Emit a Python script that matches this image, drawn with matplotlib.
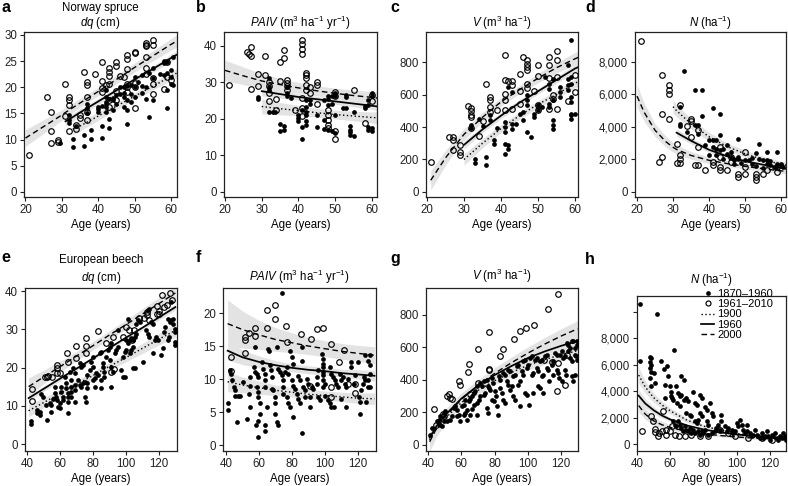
import numpy as np
import matplotlib
matplotlib.use("Agg")
import matplotlib.pyplot as plt
from matplotlib.lines import Line2D

plt.rcParams['font.family'] = ['Liberation Sans', 'DejaVu Sans']
plt.rcParams['mathtext.fontset'] = 'custom'
plt.rcParams['mathtext.rm'] = 'Liberation Sans'
plt.rcParams['mathtext.it'] = 'Liberation Sans:italic'
plt.rcParams['mathtext.bf'] = 'Liberation Sans:bold'

nan = np.nan

# ---------------- data: Norway spruce ----------------
a_old = [(29.4, 9.3), (32, 14.7), (32, 13.8), (32, 13.1), (33, 10.1), (33, 8.6), (34, 12.6), (36, 10.8), (36, 8.8),
         (37, 16.9), (37, 16.0), (37, 15.0), (38, 11.8), (38, 10.2), (40, 16.3), (40, 15.3), (41, 12.6), (41, 10.4),
         (42, 19.5), (42, 18.2), (42, 17.2), (42, 16.3), (42, 15.3), (43, 14.0), (43, 12.3), (44, 17.5), (44, 15.6),
         (45, 18.5), (45, 16.9), (46, 20.0), (47, 20.0), (47, 18.2), (47, 16.3), (48, 17.5), (48, 15.6), (48, 13.0),
         (49, 18.8), (49, 17.2), (50, 22.0), (50, 20.1), (50, 18.2), (52, 22.3), (52, 20.2), (53, 20.1), (53, 17.7),
         (54, 14.4), (54, 22.8), (55, 23.6), (55, 21.7), (55, 17.5), (58, 24.6), (58, 22.3), (59, 24.9), (59, 16.0),
         (59, 19.5), (60, 23.3), (60, 22.0), (60, 20.7), (60.5, 25.8), (60.5, 20.4), (40, 15.8), (41, 16.5),
         (42, 16.8), (43, 17.8), (44, 18.0), (46, 18.8), (47, 19.0), (48, 20.3), (49, 20.5), (51, 21.0), (52, 19.0),
         (57, 22.5), (58, 25.0), (59, 22.8)]
a_new = [(21, 7.1), (26, 18.2), (27, 15.3), (27, 11.6), (27, 9.3), (29, 9.9), (29, 9.5), (31, 20.6), (32, 18.2),
         (32, 17.5), (32, 16.7), (31, 14.5), (32, 11.6), (34, 12.8), (35, 14.2), (35, 14.7), (34, 12.1), (36, 22.9),
         (37, 21.1), (37, 20.4), (37, 18.1), (37, 13.7), (37, 15.3), (39, 22.5), (41, 24.8), (41, 21.2), (41, 19.8),
         (41, 19.1), (42, 20.4), (43, 23.6), (43, 23.0), (43, 22.2), (43, 20.7), (43, 17.5), (43, 16.3), (45, 24.8),
         (45, 24.1), (45, 19.3), (45, 17.5), (46, 22.1), (47, 22.0), (48, 26.1), (48, 25.5), (48, 23.5), (48, 20.7),
         (48, 20.0), (48, 19.1), (50, 26.8), (50, 26.5), (50, 16.1), (50, 20.9), (50, 20.0), (53, 28.4), (53, 28.1),
         (53, 27.8), (53, 25.8), (53, 23.6), (53, 22.5), (55, 29.0), (55, 28.1), (55, 21.8), (55, 20.7), (55, 18.8),
         (58, 19.6), (59, 24.9), (59, 22.0), (60, 21.4)]
a_fit_age = [20, 25, 30, 31, 33, 35, 40, 45, 50, 55, 60, 61.5]
a_2000 = [10.3, 12.5, 14.7, 15.2, 16.1, 17.0, 19.2, 21.5, 23.8, 26.0, 28.2, 28.8]
a_1960 = [nan, nan, nan, 13.5, 14.3, 15.2, 17.3, 19.4, 21.5, 23.5, 25.6, 26.2]
a_1900 = [nan, nan, nan, nan, 12.0, 12.6, 14.5, 16.4, 18.3, 20.2, 22.1, 22.7]
a_2000_ci = [1.6, 1.3, 1.0, 0.95, 0.9, 0.85, 0.8, 0.8, 0.85, 0.95, 1.1, 1.2]
a_1960_ci = [nan, nan, nan, 0.8, 0.75, 0.7, 0.6, 0.55, 0.55, 0.6, 0.7, 0.75]
a_1900_ci = [nan, nan, nan, nan, 1.0, 0.95, 0.8, 0.7, 0.65, 0.7, 0.8, 0.85]

b_old = [(29, 26.0), (29, 25.5), (32, 31.3), (32, 28.7), (32, 28.0), (32, 22.0), (33, 22.0), (33.5, 22.0), (35, 18.7),
         (36, 18.1), (36, 17.0), (35, 16.7), (37, 28.7), (37, 27.0), (37, 26.2), (38, 25.7), (40, 21.1), (40, 20.2),
         (40, 19.3), (41, 22.5), (41, 17.7), (41, 14.5), (42, 25.1), (42, 23.4), (42, 22.0), (42, 21.1), (42, 19.3),
         (42, 18.4), (43, 25.2), (43, 24.1), (45, 21.1), (45, 17.9), (47, 25.2), (47, 19.8), (47, 17.2), (48, 26.2),
         (48, 25.4), (48, 23.8), (48, 17.0), (49, 16.6), (49, 26.2), (49, 24.1), (50, 27.0), (50, 26.2), (50, 21.1),
         (50, 16.1), (52, 23.0), (53, 23.0), (53, 26.6), (53, 26.0), (54, 18.1), (54, 17.0), (54, 16.3), (54, 15.7),
         (55, 15.2), (55, 22.0), (58, 23.0), (58, 23.6), (59, 25.2), (59, 23.9), (59, 17.9), (59, 17.0), (60, 27.0),
         (60, 26.2), (60, 17.5), (60, 16.6)]
b_new = [(21, 29.3), (26, 38.2), (26.5, 37.9), (27, 39.6), (27, 37.1), (27, 28.2), (29, 32.3), (29, 29.0), (31, 37.1),
         (31, 32.1), (32, 30.2), (32, 29.0), (32, 27.2), (32, 24.8), (34, 25.4), (34, 22.4), (35, 35.7), (36, 38.8),
         (36, 36.8), (35, 30.4), (37, 30.7), (37, 29.8), (37, 29.0), (37, 28.0), (39, 22.4), (41, 41.5), (41, 40.6),
         (41, 39.2), (41, 37.8), (41, 25.7), (41, 23.0), (41, 20.7), (42, 32.5), (42, 31.9), (42, 31.2), (42, 29.4),
         (42, 28.0), (43, 28.7), (43, 27.0), (45, 30.2), (45, 29.3), (45, 24.1), (50, 27.5), (50, 26.2), (50, 14.5),
         (50, 16.6), (48, 22.5), (48, 21.1), (48, 19.8), (48, 18.4), (48, 17.5), (55, 28.0), (58, 19.0), (60, 26.6),
         (60, 24.8)]
b_fit_age = [20, 25, 30, 35, 40, 45, 50, 55, 60, 61.5]
b_2000 = [33.3, 31.8, 30.4, 29.4, 28.5, 27.7, 27.0, 26.4, 25.9, 25.7]
b_1960 = [nan, nan, 27.6, 26.8, 26.0, 25.4, 24.8, 24.2, 23.6, 23.4]
b_1900 = [nan, nan, 23.4, 22.8, 22.3, 21.7, 21.2, 20.8, 20.4, 20.3]
b_2000_ci = [2.8, 2.4, 2.0, 1.7, 1.5, 1.4, 1.4, 1.5, 1.6, 1.7]
b_1960_ci = [nan, nan, 1.3, 1.1, 0.9, 0.8, 0.8, 0.9, 1.0, 1.1]
b_1900_ci = [nan, nan, 2.0, 1.7, 1.4, 1.2, 1.2, 1.3, 1.5, 1.6]

c_old = [(32, 410), (32, 394), (34, 451), (35, 404), (33, 205), (33, 178), (36, 215), (36, 164), (37, 472), (37, 441),
         (38, 318), (38, 293), (39, 396), (41, 431), (41, 400), (41, 369), (41, 297), (41, 236), (42, 287), (42, 267),
         (42, 646), (43, 615), (43, 420), (43, 390), (44, 420), (45, 482), (46, 492), (46, 441), (47, 595), (47, 564),
         (47, 533), (47, 369), (48, 338), (49, 482), (49, 462), (50, 533), (50, 503), (51, 523), (52, 708), (53, 667),
         (53, 636), (54, 697), (53, 544), (53, 523), (54, 564), (54, 441), (54, 410), (54, 390), (56, 646), (56, 615),
         (56, 585), (58, 697), (58, 779), (58, 656), (58, 626), (59, 933), (59, 472), (59, 451), (59, 708), (59, 667),
         (59, 482), (60, 482), (59, 585), (59, 554)]
c_new = [(21, 185), (26, 338), (27, 338), (27, 318), (27, 260), (29, 287), (29, 246), (29, 226), (31, 527), (32, 519),
         (32, 496), (32, 476), (32, 462), (32, 396), (34, 343), (35, 437), (36, 667), (37, 564), (37, 523), (37, 492),
         (37, 585), (39, 507), (41, 841), (41, 687), (42, 681), (43, 681), (41, 605), (41, 564), (43, 656), (43, 508),
         (41, 503), (45, 724), (45, 619), (45, 544), (46, 831), (47, 810), (47, 790), (47, 769), (47, 749), (47, 667),
         (47, 640), (49, 620), (50, 779), (50, 712), (50, 533), (50, 503), (53, 831), (53, 779), (53, 701), (53, 513),
         (55, 865), (55, 815), (55, 710), (55, 513), (54, 595), (54, 574), (58, 560), (60, 615), (60, 720)]
c_fit_age = [21, 25, 30, 35, 40, 45, 50, 55, 60, 61]
c_2000 = [72, 210, 355, 460, 555, 630, 700, 765, 820, 830]
c_1960 = [nan, nan, 290, 385, 470, 550, 620, 690, 760, 770]
c_1900 = [nan, nan, 200, 300, 390, 470, 540, 600, 670, 680]
c_2000_ci = [60, 45, 35, 28, 25, 25, 28, 32, 38, 40]
c_1960_ci = [nan, nan, 25, 20, 18, 18, 18, 20, 24, 25]
c_1900_ci = [nan, nan, 35, 28, 24, 22, 22, 24, 28, 30]

d_old = [(33, 7450), (36, 6260), (38, 6300), (41, 5170), (43, 4820), (32, 5230), (32, 4200), (32, 4040), (38, 4660),
         (36, 4100), (37, 4100), (37, 3590), (34, 3690), (43, 3490), (40, 3180), (41, 3180), (42, 3180), (41, 2770),
         (42, 2670), (43, 2560), (44, 2670), (45, 2360), (46, 2460), (46, 2150), (47, 1950), (48, 2150), (48, 2050),
         (48, 3240), (50, 1950), (51, 1950), (52, 1740), (53, 2400), (54, 2970), (54, 2050), (55, 1950), (56, 1950),
         (56, 1740), (57, 1640), (58, 1540), (58.5, 1540), (59, 2460), (60, 1740), (60, 1640), (60.5, 1540), (56, 2460),
         (44, 2000), (47, 1700), (49, 1800), (52, 2100), (53, 1600), (55, 1500), (57, 1900), (59, 1700), (45, 2900),
         (40, 2300), (39, 2900), (42, 2300)]
d_new = [(21, 9290), (26, 1850), (27, 2150), (27, 4800), (27, 7180), (29, 6560), (29, 6260), (29, 6050), (29, 4510),
         (31, 1785), (32, 1785), (32, 5330), (32, 2260), (32, 2050), (31, 2970), (34, 4040), (35, 4510), (35, 4370),
         (35, 3380), (36, 1640), (37, 1640), (37, 3830), (37, 2770), (39, 1330), (41, 1850), (41, 1640), (43, 2770),
         (43, 1540), (43, 1330), (43, 2150), (45, 1330), (46, 2150), (46, 1850), (48, 920), (48, 1130), (50, 2460),
         (50, 1540), (50, 1130), (53, 920), (53, 720), (53, 1130), (55, 1130), (56, 1330), (59, 1540), (59, 1230)]
d_fit_age = [20, 22, 25, 28, 30, 31, 35, 40, 45, 50, 55, 60, 61.5]
d_2000 = [5900, 4900, 3800, 3100, 2750, 2620, 2250, 1950, 1750, 1580, 1430, 1300, 1270]
d_1960 = [nan, nan, nan, nan, nan, 3650, 3150, 2600, 2200, 1900, 1680, 1480, 1430]
d_1900 = [nan, nan, nan, nan, 5250, 5000, 4200, 3400, 2800, 2350, 2000, 1700, 1650]
d_2000_ci = [700, 550, 400, 330, 300, 280, 240, 200, 180, 160, 150, 150, 150]
d_1960_ci = [nan, nan, nan, nan, nan, 220, 190, 160, 140, 130, 120, 120, 120]
d_1900_ci = [nan, nan, nan, nan, 400, 370, 320, 270, 230, 210, 200, 200, 200]

# ---------------- data: European beech ----------------
e_old = [(42.6, 5.9), (42.6, 5.2), (46, 8.9), (46, 8.1), (47.7, 8.5), (47.7, 7.6), (48.7, 13.1), (49.7, 12.4),
         (51.7, 10.2), (52.1, 6.3), (53.7, 10.7), (54.7, 10.2), (55.8, 11.7), (54.7, 8.5), (56.8, 15.0), (56.8, 13.3),
         (57.4, 12.4), (58.2, 11.5), (58.8, 9.8), (59.8, 10.7), (60.2, 9.4), (60.8, 15.0), (60.8, 13.7), (61.8, 12.4),
         (61.8, 11.5), (62.8, 17.6), (63.8, 15.9), (63.8, 14.6), (64.8, 13.3), (64.8, 12.4), (64.8, 11.1), (64.8, 8.1),
         (65.9, 18.9), (66.9, 16.7), (66.9, 15.0), (66.9, 13.7), (66.9, 12.4), (67.9, 19.8), (68.9, 18.5), (68.9, 15.4),
         (68.9, 14.1), (68.9, 11.1), (70.9, 16.7), (71.9, 15.4), (72.9, 15.0), (73.9, 15.9), (74.9, 16.3), (71.9, 21.1),
         (72.9, 20.2), (73.9, 20.7), (74.9, 12.4), (76, 11.1), (76.4, 18.0), (76.4, 15.9), (76.4, 14.6), (78, 19.3),
         (79, 21.5), (80, 22.8), (80, 20.2), (80, 16.7), (81, 17.2), (81, 15.0), (82, 18.5), (83, 18.0), (84, 23.7),
         (85, 24.1), (85, 16.7), (85, 14.6), (86, 21.1), (86, 20.2), (87, 18.9), (87, 17.6), (89.1, 24.6), (90.1, 25.4),
         (91.1, 26.3), (88.1, 22.8), (90.1, 22.0), (91.1, 20.2), (92.1, 18.9), (93.1, 23.7), (94.1, 24.6), (95.2, 25.4),
         (95.2, 29.8), (91.1, 15.0), (97.2, 19.3), (98.2, 17.6), (99.2, 17.4), (98.2, 22.8), (99.2, 24.1), (100.2, 24.6),
         (101.2, 26.3), (100.2, 27.2), (102.2, 27.2), (103.2, 27.6), (101.2, 32.6), (102.2, 23.7), (103.2, 24.6),
         (104.2, 25.4), (104.2, 19.8), (105.3, 19.8), (104.2, 27.2), (105.3, 28.0), (106.3, 28.9), (106.3, 31.5),
         (107.3, 32.4), (108.3, 31.9), (110.3, 21.5), (112.3, 29.9), (113.3, 28.9), (114.3, 28.0), (113.3, 35.0),
         (114.3, 35.4), (115.3, 31.9), (116.4, 31.5), (116.4, 23.7), (117.4, 27.2), (118.4, 28.0), (119.4, 27.2),
         (121.4, 23.3), (122.4, 25.0), (123.4, 29.3), (124, 30.6), (125.5, 32.8), (126.5, 31.9), (125.5, 27.2),
         (126.1, 28.0), (127.5, 32.4), (128.5, 32.8), (128.5, 31.5), (127.5, 37.1), (129.5, 26.7), (129.5, 25.9),
         (129.5, 30.2), (129.5, 29.3)]
e_new = [(43, 14.3), (43, 11.3), (51, 17.4), (52, 17.6), (53, 17.9), (55, 17.6), (58, 20.7), (58, 19.8), (58, 18.7),
         (64, 23.9), (65, 21.5), (70, 25.6), (70, 22.6), (76, 27.8), (76, 25.6), (76, 23.7), (83, 29.5), (91, 18.9),
         (92, 28.0), (98, 28.0), (100, 30.5), (102, 29.8), (104, 27.2), (105, 29.9), (108, 33.0), (111, 33.0),
         (113, 33.7), (113, 34.5), (114, 32.4), (119, 34.1), (119, 36.2), (120, 34.8), (120, 33.9), (123, 35.8),
         (125, 36.3), (128, 37.6), (122, 39.1), (127, 39.5), (93, 19.5), (60, 18.5), (88, 26.5)]
e_fit_age = [41, 50, 60, 70, 80, 90, 100, 110, 120, 130]
e_2000 = [15.0, 17.5, 20.2, 23.0, 25.7, 28.5, 31.2, 34.0, 36.7, 39.5]
e_1960 = [12.0, 14.4, 17.1, 19.7, 22.4, 25.1, 27.8, 30.4, 33.1, 35.8]
e_1900 = [8.7, 10.8, 13.2, 15.6, 17.9, 20.3, 22.6, 25.0, 27.4, 29.7]
e_2000_ci = [2.3, 1.8, 1.4, 1.2, 1.1, 1.1, 1.2, 1.4, 1.6, 1.8]
e_1960_ci = [0.9, 0.7, 0.6, 0.5, 0.5, 0.5, 0.5, 0.6, 0.7, 0.8]
e_1900_ci = [1.6, 1.3, 1.1, 1.0, 1.0, 1.0, 1.1, 1.3, 1.5, 1.7]

f_old = [(41.4, 6.3), (41.4, 5.3), (42.2, 11.4), (43.2, 10.8), (43.6, 9.8), (44.6, 8.8), (45.2, 8.3), (45.6, 7.5),
         (46.6, 3.5), (47.2, 7.5), (48.6, 7.5), (50.6, 9.5), (52.7, 4.0), (53.7, 7.7), (54.7, 10.3), (54.7, 9.0),
         (54.7, 5.8), (56.7, 11.8), (57.3, 14.8), (57.7, 11.0), (58.7, 10.8), (59.3, 10.3), (58.7, 8.8), (59.7, 8.0),
         (59.7, 7.3), (58.1, 3.0), (59.3, 3.7), (59.7, 1.2), (60.7, 6.3), (60.7, 4.7), (61.7, 12.6), (62.7, 11.6),
         (63.7, 10.8), (63.7, 9.8), (63.7, 8.8), (63.7, 3.0), (63.7, 2.1), (65.3, 14.6), (66.1, 14.3), (64.7, 5.8),
         (66.7, 12.1), (67.3, 11.3), (67.7, 10.3), (67.7, 8.5), (68.7, 8.3), (69.7, 7.3), (69.7, 6.3), (69.7, 4.7),
         (70.7, 3.5), (71.8, 3.0), (70.7, 14.9), (71.8, 11.6), (72.8, 11.1), (73.8, 10.6), (74.2, 23.0), (74.8, 9.8),
         (74.8, 8.8), (74.8, 7.8), (75.8, 11.1), (76.8, 11.8), (77.8, 10.8), (76.8, 7.3), (77.8, 6.3), (78.8, 5.8),
         (78.8, 14.3), (79.8, 13.3), (80.8, 12.3), (79.8, 9.8), (80.8, 9.0), (81.8, 8.5), (80.8, 4.2), (82.8, 7.8),
         (83.8, 7.0), (84.8, 6.3), (83.8, 10.5), (84.8, 9.8), (85.8, 14.8), (85.8, 12.8), (86.8, 8.8), (87.8, 8.3),
         (87.8, 7.3), (88.8, 10.0), (89.8, 9.3), (86.2, 1.8), (90.9, 7.3), (90.9, 5.8), (91.9, 8.8), (92.9, 8.5),
         (94.9, 9.3), (94.9, 10.3), (95.9, 11.3), (95.9, 7.3), (96.9, 6.8), (97.9, 13.8), (98.9, 13.1), (98.9, 12.3),
         (98.9, 11.8), (98.9, 11.1), (98.9, 10.6), (98.9, 9.8), (98.9, 8.8), (99.9, 9.3), (100.3, 7.5), (101.9, 6.8),
         (102.9, 6.3), (102.9, 11.8), (103.9, 10.8), (104.9, 10.3), (103.9, 5.8), (105.5, 5.8), (105.9, 9.8),
         (106.9, 9.3), (107.9, 8.8), (108.9, 10.8), (109.9, 9.8), (110.9, 10.3), (109.9, 7.0), (111.9, 9.3),
         (112.9, 8.8), (113.9, 10.0), (112.9, 5.8), (115.6, 12.6), (116, 11.8), (117.6, 9.3), (118, 10.6), (120, 12.6),
         (120.4, 7.3), (121, 6.5), (121, 4.7), (122, 8.3), (123, 9.3), (123.6, 10.3), (124, 13.6), (124.4, 9.8),
         (125, 6.5), (126, 12.8), (126, 9.8), (126, 8.8), (127, 12.1), (127, 10.8), (127, 13.6), (127.4, 8.8)]
f_new = [(43.2, 13.4), (43.2, 11.2), (51.3, 16.3), (51.3, 15.9), (51.3, 13.9), (54.1, 17.0), (57.7, 17.8),
         (57.7, 16.6), (64.7, 20.5), (64.7, 17.8), (69.7, 21.2), (69.7, 19.1), (76.2, 18.1), (76.8, 15.6), (85.4, 16.8),
         (91.5, 16.0), (90.9, 8.9), (94.9, 17.6), (98.9, 17.8), (103.5, 15.3), (103.9, 8.8), (103.9, 7.3),
         (108.5, 12.6), (111.6, 14.4), (114, 9.2), (118, 9.2), (118, 7.9)]
f_fit_age = [41, 50, 60, 70, 80, 90, 100, 110, 120, 130]
f_2000 = [18.4, 17.5, 16.7, 16.0, 15.5, 15.0, 14.6, 14.2, 13.9, 13.6]
f_1960 = [14.3, 13.3, 12.6, 12.1, 11.7, 11.4, 11.2, 10.9, 10.7, 10.5]
f_1900 = [9.6, 9.1, 8.7, 8.3, 8.0, 7.7, 7.5, 7.3, 7.1, 7.0]
f_2000_ci = [3.6, 2.8, 2.2, 1.8, 1.5, 1.3, 1.2, 1.2, 1.2, 1.3]
f_1960_ci = [1.4, 1.1, 0.9, 0.7, 0.6, 0.6, 0.6, 0.6, 0.7, 0.8]
f_1900_ci = [1.5, 1.2, 1.0, 0.8, 0.7, 0.7, 0.7, 0.7, 0.8, 0.9]

g_old = [(41.4, 64), (42.4, 105), (45.4, 146), (46.4, 156), (47.4, 176), (47.4, 125), (48.4, 115), (49.4, 146),
         (49.4, 197), (50.4, 207), (51.4, 146), (53.4, 156), (54.4, 176), (55.4, 228), (56.4, 238), (57.4, 217),
         (57.4, 176), (58.4, 187), (59.4, 146), (60.4, 238), (61.4, 248), (62.4, 279), (61.4, 187), (62.4, 197),
         (63.4, 217), (64.4, 269), (65.4, 283), (66.4, 300), (63.4, 156), (65.4, 187), (66.4, 221), (67.4, 320),
         (68.4, 330), (69.4, 361), (67.4, 248), (69.4, 258), (70.4, 279), (69.4, 187), (71.4, 382), (72.4, 361),
         (73.4, 392), (71.4, 300), (73.4, 310), (74.4, 320), (75.4, 402), (75.8, 365), (75.4, 228), (75.8, 197),
         (76.4, 351), (77.4, 341), (78.4, 412), (79, 382), (78.4, 279), (79.4, 269), (80.4, 330), (81, 300),
         (81.4, 238), (81.8, 187), (82.4, 423), (83.4, 402), (83.4, 351), (84.4, 320), (85.4, 279), (86.4, 258),
         (85.4, 443), (86.4, 433), (87.4, 392), (88.4, 371), (88.4, 463), (89.4, 453), (89.4, 341), (90.4, 361),
         (91.4, 423), (92.4, 433), (91.4, 300), (92.4, 279), (93.4, 484), (94.4, 494), (94.4, 371), (95.4, 392),
         (95.4, 238), (96.4, 453), (97.4, 433), (97.4, 515), (98.4, 525), (98.4, 320), (99.4, 310), (99.4, 474),
         (100.4, 494), (101, 248), (101.4, 535), (102.4, 546), (102.4, 433), (103.4, 443), (103.4, 320), (104.4, 525),
         (105.4, 535), (105.4, 474), (106.4, 453), (106.4, 361), (107.4, 351), (107.4, 515), (108.4, 525),
         (108.4, 423), (109.4, 433), (109.4, 320), (110.4, 546), (111.4, 556), (111.4, 474), (112.4, 463), (113, 392),
         (114.4, 494), (115.4, 515), (115.4, 433), (116.4, 566), (117.4, 556), (117.4, 463), (118.4, 443), (119, 412),
         (119.4, 556), (120.4, 576), (120.4, 392), (121.4, 535), (122.4, 546), (122.4, 463), (123, 433), (123.4, 628),
         (124.4, 617), (124.4, 576), (125.4, 597), (125.4, 535), (126.4, 515), (126.4, 638), (127.4, 638),
         (126.4, 423), (127.4, 392), (128.4, 597), (128.4, 556), (128.4, 433), (129.4, 638), (129.4, 617), (129, 546),
         (129.4, 525)]
g_new = [(43.4, 224), (45, 125), (49, 193), (49.4, 176), (51.4, 300), (52.4, 316), (53, 289), (54.4, 283), (58.4, 392),
         (59, 367), (64, 451), (64.8, 498), (65.4, 316), (69.8, 590), (69.8, 382), (76.4, 469), (76.8, 463),
         (76.6, 695), (83.4, 546), (85.4, 590), (92, 654), (95.4, 703), (99, 720), (104, 736), (110, 525), (112.4, 837),
         (114.8, 509), (117.4, 330), (118.4, 505), (118, 931), (122.4, 371), (123.8, 556)]
g_fit_age = [41, 45, 50, 60, 70, 80, 90, 100, 110, 120, 130]
g_2000 = [20, 100, 170, 280, 365, 440, 505, 565, 620, 670, 715]
g_1960 = [45, 115, 180, 285, 365, 430, 485, 535, 575, 610, 640]
g_1900 = [30, 100, 160, 260, 335, 395, 445, 490, 525, 555, 580]
g_2000_ci = [60, 50, 45, 40, 35, 35, 35, 38, 40, 45, 50]
g_1960_ci = [25, 20, 18, 15, 15, 15, 15, 18, 20, 22, 25]
g_1900_ci = [40, 35, 30, 25, 25, 25, 25, 28, 30, 35, 40]

h_old = [(41.6, 10600), (41.6, 6300), (52.3, 9800), (47.6, 6600), (48.6, 6470), (47.6, 6220), (48.6, 5970),
         (47.6, 5720), (48.6, 5470), (47.6, 4970), (48.6, 4340), (50.3, 5350), (51, 4590), (54.7, 6300), (56.3, 5640),
         (56.7, 4460), (57, 3460), (58.3, 5890), (58.7, 5100), (59.7, 4340), (60.7, 3960), (60.3, 3640), (61.1, 3460),
         (61.9, 3340), (62.3, 7100), (63.7, 4340), (64.7, 3840), (65.7, 3590), (64.3, 3090), (65.7, 2880),
         (66.7, 5100), (68.3, 4840), (66.7, 3710), (68.3, 3340), (69.7, 3460), (70.7, 3210), (69.7, 2330),
         (71.7, 2210), (72.7, 2080), (73.8, 3960), (74.8, 3090), (75.8, 2960), (74.8, 1710), (75.8, 1580),
         (76.8, 1830), (77.8, 3710), (78.8, 3460), (77.8, 2330), (78.8, 2080), (80.8, 2830), (81.8, 2580),
         (81.8, 1710), (82.8, 1450), (83.8, 3090), (84.8, 2330), (85.8, 2080), (87.8, 1200), (88.8, 1450),
         (89.8, 1080), (90.4, 1710), (90.8, 2210), (92.9, 1330), (93.9, 950), (94.9, 1200), (96.9, 1080), (97.9, 830),
         (98.9, 950), (99.9, 1580), (100.9, 1330), (101.9, 1830), (102.9, 1450), (103.9, 1080), (104.9, 830),
         (105.9, 950), (105.9, 1450), (107.9, 830), (108.9, 580), (109.9, 700), (110.9, 1080), (112, 700), (113, 580),
         (114, 450), (115, 830), (116, 450), (117, 580), (118, 950), (119, 580), (120, 330), (121, 700), (122, 580),
         (123, 830), (124, 450), (125, 330), (126, 580), (127, 450), (128, 830), (129, 580), (129.5, 330),
         (61.7, 1710), (62.7, 1450), (63.7, 1330), (64.7, 1710), (65.7, 1450), (66.7, 1200), (67.7, 950), (68.7, 1330),
         (69.7, 1080), (70.7, 950), (71.7, 1200), (72.7, 830), (73.8, 1080), (74.8, 830), (76.8, 950), (77.8, 700),
         (78.8, 950), (79.8, 830), (80.8, 1080), (82.8, 700), (84.8, 830), (86.8, 950)]
h_new = [(43, 950), (51, 880), (51, 1130), (52.7, 580), (53, 830), (55, 950), (57.7, 700), (57.7, 1080), (59.7, 950),
         (61.1, 1330), (63.1, 700), (65.1, 580), (68.7, 580), (72.7, 700), (77.8, 580), (82.8, 580), (89.8, 1080),
         (94.9, 830), (98.9, 580), (106.9, 450), (115, 450), (121, 330), (48.6, 2080), (49.6, 1710), (55.7, 2460)]
h_fit_age = [41, 45, 50, 55, 60, 70, 80, 90, 100, 110, 120, 130]
h_2000 = [2900, 2250, 1750, 1450, 1250, 950, 780, 640, 530, 450, 390, 340]
h_1960 = [3650, 3050, 2550, 2150, 1850, 1400, 1100, 880, 720, 590, 480, 400]
h_1900 = [5200, 4300, 3500, 2950, 2500, 1800, 1350, 1050, 800, 620, 480, 380]
h_2000_ci = [500, 400, 300, 250, 200, 150, 120, 100, 100, 100, 100, 100]
h_1960_ci = [450, 350, 250, 200, 160, 120, 100, 90, 80, 80, 80, 80]
h_1900_ci = [600, 450, 350, 280, 230, 170, 130, 110, 100, 100, 100, 100]

top_xticks = [20, 30, 40, 50, 60]
bot_xticks = [40, 60, 80, 100, 120]
legend_labels = ['1870\u20131960', '1961\u20132010', '1900', '1960', '2000']

# ---------------- drawing ----------------
W, H = 788, 486
fig = plt.figure(figsize=(W / 100, H / 100), dpi=100)
FS = 8.3
BAND = '#e3e3e3'
LS = {'1900': (0, (1, 1.8)), '1960': '-', '2000': (0, (4, 2.5))}
MS_OLD, MS_NEW = 3.4, 4.0


def add_ax(l, t, r, b):
    return fig.add_axes([l / W, 1 - b / H, (r - l) / W, (b - t) / H])


def ftext(x, y, s, **kw):
    fig.text(x / W, 1 - y / H, s, **kw)


def draw(ax, old, new, fit_age, fits, xlim, ylim, xticks, yticks, ylabels):
    fa = np.array(fit_age, float)
    for vals, ci, key in fits:
        v = np.array(vals, float)
        c = np.array(ci, float)
        ax.fill_between(fa, v - c, v + c, color=BAND, lw=0, zorder=1)
    ox, oy = zip(*old)
    nx, ny = zip(*new)
    ax.plot(ox, oy, 'o', ms=MS_OLD, color='k', mew=0, zorder=3)
    ax.plot(nx, ny, 'o', ms=MS_NEW, mfc='none', mec='k', mew=0.85, zorder=3)
    for vals, ci, key in fits:
        ax.plot(fa, np.array(vals, float), color='k', ls=LS[key],
                lw=1.25 if key == '1960' else 1.0, zorder=4)
    ax.set_xlim(*xlim)
    ax.set_ylim(*ylim)
    ax.set_xticks(xticks)
    ax.set_yticks(yticks)
    ax.set_yticklabels(ylabels)
    ax.tick_params(direction='out', length=3, width=0.8, pad=2, labelsize=FS, colors='#222222')
    for s in ax.spines.values():
        s.set_linewidth(0.9)
        s.set_color('#222222')
    ax.set_xlabel('Age (years)', fontsize=FS, labelpad=2)


def fits_of(v1900, c1900, v1960, c1960, v2000, c2000):
    return [(v1900, c1900, '1900'), (v1960, c1960, '1960'), (v2000, c2000, '2000')]


ax_a = add_ax(24, 32, 177, 197)
draw(ax_a, a_old, a_new, a_fit_age, fits_of(a_1900, a_1900_ci, a_1960, a_1960_ci, a_2000, a_2000_ci),
     (19.6, 61.65), (-0.96, 30.57), top_xticks, [0, 5, 10, 15, 20, 25, 30], ['0', '5', '10', '15', '20', '25', '30'])
ax_b = add_ax(224, 32, 377, 197)
draw(ax_b, b_old, b_new, b_fit_age, fits_of(b_1900, b_1900_ci, b_1960, b_1960_ci, b_2000, b_2000_ci),
     (19.73, 61.36), (-1.37, 43.8), top_xticks, [0, 10, 20, 30, 40], ['0', '10', '20', '30', '40'])
ax_c = add_ax(426, 32, 578, 197)
draw(ax_c, c_old, c_new, c_fit_age, fits_of(c_1900, c_1900_ci, c_1960, c_1960_ci, c_2000, c_2000_ci),
     (19.73, 60.81), (-31, 985), top_xticks, [0, 200, 400, 600, 800], ['0', '200', '400', '600', '800'])
ax_d = add_ax(635, 32, 786, 197)
draw(ax_d, d_old, d_new, d_fit_age, fits_of(d_1900, d_1900_ci, d_1960, d_1960_ci, d_2000, d_2000_ci),
     (19.44, 61.39), (-308, 9846), top_xticks, [0, 2000, 4000, 6000, 8000], ['0', '2,000', '4,000', '6,000', '8,000'])

ax_e = add_ax(25, 288, 177, 451)
draw(ax_e, e_old, e_new, e_fit_age, fits_of(e_1900, e_1900_ci, e_1960, e_1960_ci, e_2000, e_2000_ci),
     (38.8, 131.0), (-1.83, 40.8), bot_xticks, [0, 10, 20, 30, 40], ['0', '10', '20', '30', '40'])
ax_f = add_ax(223, 288, 376, 451)
draw(ax_f, f_old, f_new, f_fit_age, fits_of(f_1900, f_1900_ci, f_1960, f_1960_ci, f_2000, f_2000_ci),
     (38.2, 130.9), (-0.9, 23.8), bot_xticks, [0, 5, 10, 15, 20], ['0', '5', '10', '15', '20'])
ax_g = add_ax(426, 288, 578, 451)
draw(ax_g, g_old, g_new, g_fit_age, fits_of(g_1900, g_1900_ci, g_1960, g_1960_ci, g_2000, g_2000_ci),
     (38.8, 130.2), (-37, 966), bot_xticks, [0, 200, 400, 600, 800], ['0', '200', '400', '600', '800'])
ax_h = add_ax(637, 296, 786, 451)
draw(ax_h, h_old, h_new, h_fit_age, fits_of(h_1900, h_1900_ci, h_1960, h_1960_ci, h_2000, h_2000_ci),
     (40.0, 129.6), (-528, 11170), bot_xticks, [0, 2000, 4000, 6000, 8000, 10000],
     ['0', '2,000', '4,000', '6,000', '8,000', ''])

handles = [Line2D([], [], marker='o', ls='none', color='k', ms=MS_OLD, mew=0),
           Line2D([], [], marker='o', ls='none', mfc='none', mec='k', ms=3.6, mew=0.85),
           Line2D([], [], color='k', ls=LS['1900'], lw=1.0),
           Line2D([], [], color='k', ls=LS['1960'], lw=1.25),
           Line2D([], [], color='k', ls=LS['2000'], lw=1.0)]
fig.legend(handles, legend_labels, loc='upper left', bbox_to_anchor=(701 / W, 1 - 289 / H),
           frameon=False, fontsize=8.0, handlelength=1.2, handletextpad=0.25, labelspacing=0.02,
           borderpad=0, borderaxespad=0)

# titles
TT = dict(ha='center', va='center', fontsize=FS)
ftext(100.5, 8, 'Norway spruce', **TT)
ftext(100.5, 23, r'$\mathit{dq}$ (cm)', **TT)
ftext(300.5, 23, r'$\mathit{PAIV}$ (m$^{3}$ ha$^{-1}$ yr$^{-1}$)', **TT)
ftext(502, 23, r'$\mathit{V}$ (m$^{3}$ ha$^{-1}$)', **TT)
ftext(710.5, 23, r'$\mathit{N}$ (ha$^{-1}$)', **TT)
ftext(101, 260, 'European beech', **TT)
ftext(101, 278, r'$\mathit{dq}$ (cm)', **TT)
ftext(299.5, 277, r'$\mathit{PAIV}$ (m$^{3}$ ha$^{-1}$ yr$^{-1}$)', **TT)
ftext(502, 276, r'$\mathit{V}$ (m$^{3}$ ha$^{-1}$)', **TT)
ftext(711, 280, r'$\mathit{N}$ (ha$^{-1}$)', **TT)

LT = dict(ha='left', va='center', fontsize=11.5, fontweight='bold')
for x, y, s in [(1, 7, 'a'), (196, 7, 'b'), (390, 7, 'c'), (585, 7, 'd'),
                (1, 257, 'e'), (196, 257, 'f'), (390, 258, 'g'), (585, 260, 'h')]:
    ftext(x, y, s, **LT)

fig.savefig('out.png', dpi=100)
